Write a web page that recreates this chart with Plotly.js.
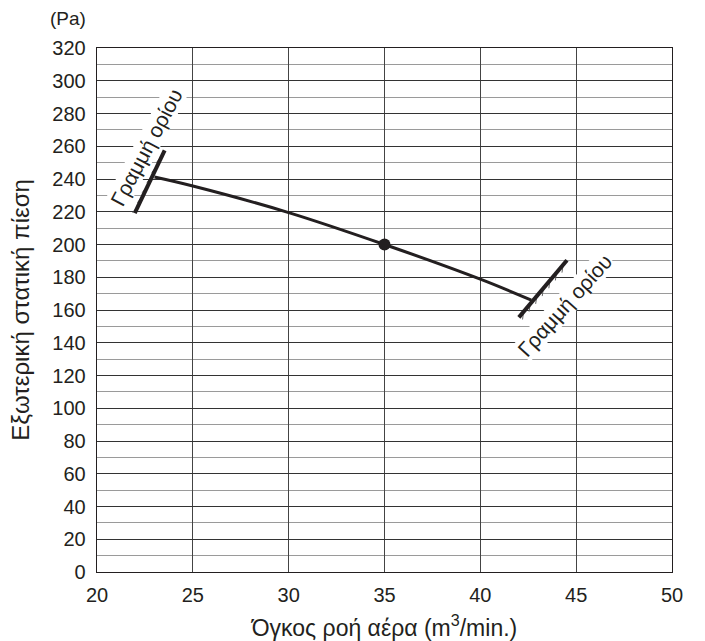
<!DOCTYPE html>
<html><head><meta charset="utf-8">
<script src="https://cdn.plot.ly/plotly-3.0.1.min.js"></script>
<style>html,body{margin:0;padding:0;background:#fff;}#chart{width:705px;height:641px;}</style>
</head><body><div id="chart"></div>
<script>
// Curve (air volume m3/min vs external static pressure Pa)
const curveX = [23.0, 25, 30, 35, 40, 42.66];
const curveY = [241.2, 235.7, 219.5, 200, 178.8, 166];
// Rated point
const pointX = [35];
const pointY = [200];
// Limit lines
const limitLeftX = [21.97, 23.53];
const limitLeftY = [219.1, 257.5];
const limitRightX = [42.01, 44.52];
const limitRightY = [155.5, 190.4];
const limitLabel = 'Γραμμή ορίου';
const xTicks = [20, 25, 30, 35, 40, 45, 50];
const yTicks = [0,20,40,60,80,100,120,140,160,180,200,220,240,260,280,300,320];

const ink = '#231f20';
const font = 'Liberation Sans, Arial, sans-serif';

function hatches(lx, ly, n, dx, dy, t0, t1) {
  const hx = [], hy = [];
  for (let i = 0; i < n; i++) {
    const t = t0 + (t1 - t0) * i / (n - 1);
    const x = lx[0] + (lx[1] - lx[0]) * t;
    const y = ly[0] + (ly[1] - ly[0]) * t;
    hx.push(x, x + dx, null);
    hy.push(y, y + dy, null);
  }
  return {hx, hy};
}
const hl = hatches(limitLeftX, limitLeftY, 6, -0.3, -4.3, 0.12, 0.92);
const hr = hatches(limitRightX, limitRightY, 7, -0.06, -4.8, 0.1, 0.92);

const traces = [
  {x: hl.hx, y: hl.hy, mode: 'lines', line: {color: '#666', width: 1}, hoverinfo: 'skip'},
  {x: hr.hx, y: hr.hy, mode: 'lines', line: {color: '#666', width: 1}, hoverinfo: 'skip'},
  {x: curveX, y: curveY, mode: 'lines', line: {color: ink, width: 3, shape: 'spline'}},
  {x: limitLeftX, y: limitLeftY, mode: 'lines', line: {color: ink, width: 4}},
  {x: limitRightX, y: limitRightY, mode: 'lines', line: {color: ink, width: 4}},
  {x: pointX, y: pointY, mode: 'markers', marker: {color: ink, size: 12}}
];

const layout = {
  width: 705, height: 641,
  margin: {l: 97, r: 33, t: 48, b: 69},
  paper_bgcolor: '#fff', plot_bgcolor: '#fff',
  showlegend: false,
  font: {family: font, color: ink, size: 20},
  xaxis: {
    range: [20, 50], tickvals: xTicks, ticktext: xTicks.map(String),
    showgrid: true, gridcolor: '#444', gridwidth: 1,
    zeroline: false, showline: true, linecolor: ink, linewidth: 1.3, mirror: true,
    ticks: '', ticklabelstandoff: 5,
    tickfont: {size: 20, family: font, color: ink},
    title: {text: 'Όγκος ροή αέρα (m<sup>3</sup>/min.)', font: {size: 23, family: font, color: ink}, standoff: 16}
  },
  yaxis: {
    range: [0, 320], tickvals: yTicks, ticktext: yTicks.map(String),
    showgrid: true, gridcolor: '#333', gridwidth: 1,
    minor: {dtick: 10, tick0: 0, showgrid: true, gridcolor: '#9a9a9a', gridwidth: 1, ticks: ''},
    zeroline: false, showline: true, linecolor: ink, linewidth: 1.3, mirror: true,
    ticks: '', ticklabelstandoff: 6,
    tickfont: {size: 20, family: font, color: ink},
    title: {text: 'Εξωτερική στατική πίεση', font: {size: 24, family: font, color: ink}, standoff: 16}
  },
  annotations: [
    {xref: 'paper', yref: 'paper', x: -0.051, y: 1.056, xanchor: 'center', yanchor: 'middle',
     text: '(Pa)', showarrow: false, font: {size: 19, family: font, color: ink}},
    {x: 22.57, y: 259.3, text: limitLabel, showarrow: false, textangle: -62,
     bgcolor: '#fff', borderpad: 0, font: {size: 21, family: font, color: ink}},
    {x: 44.39, y: 163, text: limitLabel, showarrow: false, textangle: -48,
     bgcolor: '#fff', borderpad: 0, font: {size: 21, family: font, color: ink}}
  ]
};

Plotly.newPlot('chart', traces, layout, {staticPlot: true, displayModeBar: false});
</script>
</body></html>
